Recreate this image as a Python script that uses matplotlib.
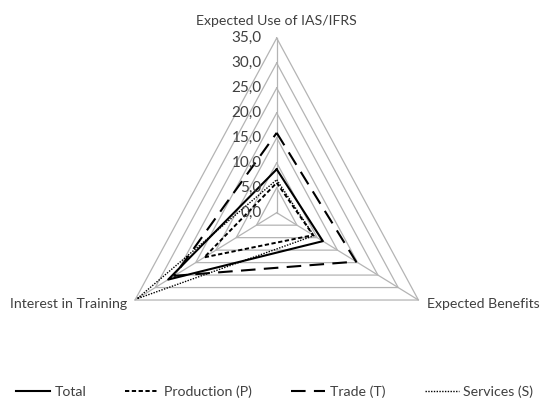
import numpy as np
import matplotlib
matplotlib.use("Agg")
import matplotlib.pyplot as plt
from matplotlib.lines import Line2D

# categories (clockwise from the top)
categories = ["Expected Use of IAS/IFRS", "Expected Benefits", "Interest in Training"]

# series values
total = [8.7, 11.4, 26.8]
production = [6.0, 9.0, 17.9]
trade = [16.0, 19.6, 25.3]
services = [6.6, 9.2, 34.5]

ticks = [0, 5, 10, 15, 20, 25, 30, 35]

plt.rcParams["font.family"] = ["Lato", "DejaVu Sans"]

fig = plt.figure(figsize=(5.49, 4.01), dpi=100)
ax = fig.add_axes([0, 0, 1, 1])
ax.axis("off")

# Excel's radar is a bit taller than wide, so x and y get their own scale
kx, ky = 4.675, 4.99
cx, cy = 276.7, 212.7
ax.set_xlim(-cx / kx, (549 - cx) / kx)
ax.set_ylim(-(401 - cy) / ky, cy / ky)

angles = np.deg2rad([90, -30, 210])


def to_xy(vals):
    vals = np.asarray(vals, dtype=float)
    x = vals * np.cos(angles)
    y = vals * np.sin(angles)
    return np.append(x, x[0]), np.append(y, y[0])


grid_col = "#b4b4b4"
for t in ticks[1:]:
    gx, gy = to_xy([t] * 3)
    ax.plot(gx, gy, color=grid_col, lw=0.9, zorder=1)
for a in angles:
    ax.plot([0, ticks[-1] * np.cos(a)], [0, ticks[-1] * np.sin(a)],
            color=grid_col, lw=0.9, zorder=1)

for t in ticks:
    ax.annotate(f"{t:.1f}".replace(".", ","), xy=(0, t), xytext=(-11, 0),
                textcoords="offset points", ha="right", va="center",
                fontsize=11, color="#404040", zorder=3)

series = [
    ("Total", total, dict(ls="-", lw=1.5)),
    ("Production (P)", production, dict(ls=(0, (2.2, 1.3)), lw=1.4)),
    ("Trade (T)", trade, dict(ls=(0, (7, 4)), lw=1.5)),
    ("Services (S)", services, dict(ls=(0, (1, 1)), lw=1.0)),
]
handles = []
for name, vals, st in series:
    sx, sy = to_xy(vals)
    ax.plot(sx, sy, color="black", zorder=2, **st)
    handles.append(Line2D([], [], color="black", **st))

# category labels
fs = 10.2
R = ticks[-1]
ax.annotate(categories[0], xy=(0, R), xytext=(0, 12), textcoords="offset points",
            ha="center", va="center", fontsize=fs, color="#404040")
ax.annotate(categories[1], xy=(R * np.cos(angles[1]), R * np.sin(angles[1])),
            xytext=(6.5, -3), textcoords="offset points",
            ha="left", va="center", fontsize=fs, color="#404040")
ax.annotate(categories[2], xy=(R * np.cos(angles[2]), R * np.sin(angles[2])),
            xytext=(-5.5, -3), textcoords="offset points",
            ha="right", va="center", fontsize=fs, color="#404040")

leg = fig.legend(handles, [s[0] for s in series], loc="center",
                 bbox_to_anchor=(0.5, 1 - 392 / 401), ncol=4, frameon=False,
                 fontsize=fs, handlelength=2.4, handletextpad=0.35,
                 columnspacing=2.75, borderaxespad=0)
for txt in leg.get_texts():
    txt.set_color("#404040")

fig.savefig("out.png", dpi=100)
